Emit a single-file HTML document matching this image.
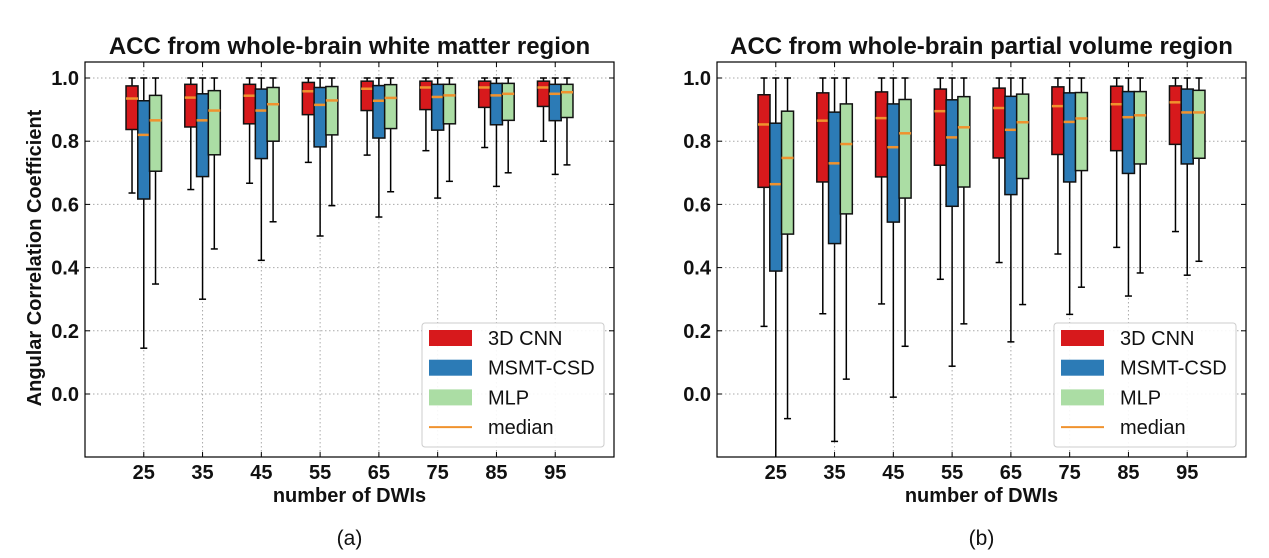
<!DOCTYPE html>
<html><head><meta charset="utf-8"><style>
body{margin:0;background:#fff;}
svg{display:block;font-family:"Liberation Sans",Arial,sans-serif;}
</style></head><body>
<svg id="fig" width="1269" height="558" viewBox="0 0 1269 558"></svg>
<script>
const categories=[25,35,45,55,65,75,85,95];
const seriesNames=["3D CNN","MSMT-CSD","MLP"];
const yTicks=[0.0,0.2,0.4,0.6,0.8,1.0];
// panel (a): [low whisker, Q1, median, Q3, high whisker]
const wmCNN=[[0.636,0.837,0.935,0.975,1],[0.647,0.845,0.938,0.98,1],[0.667,0.855,0.944,0.98,1],[0.733,0.884,0.958,0.986,1],[0.756,0.897,0.966,0.99,1],[0.77,0.9,0.97,0.99,1],[0.78,0.907,0.97,0.99,1],[0.80,0.91,0.97,0.99,1]];
const wmMSMT=[[0.145,0.617,0.82,0.928,1],[0.30,0.688,0.866,0.95,1],[0.423,0.745,0.897,0.965,1],[0.50,0.782,0.915,0.97,1],[0.56,0.81,0.928,0.976,1],[0.62,0.835,0.94,0.98,1],[0.657,0.852,0.945,0.983,1],[0.695,0.865,0.95,0.98,1]];
const wmMLP=[[0.348,0.705,0.866,0.945,1],[0.459,0.757,0.897,0.96,1],[0.545,0.8,0.917,0.97,1],[0.596,0.82,0.929,0.973,1],[0.64,0.84,0.937,0.979,1],[0.673,0.855,0.945,0.98,1],[0.70,0.866,0.95,0.983,1],[0.725,0.875,0.955,0.98,1]];
// panel (b)
const pvCNN=[[0.214,0.654,0.853,0.947,1],[0.254,0.671,0.865,0.953,1],[0.285,0.687,0.873,0.956,1],[0.363,0.724,0.895,0.965,1],[0.416,0.747,0.905,0.968,1],[0.443,0.758,0.911,0.972,1],[0.464,0.77,0.917,0.974,1],[0.514,0.79,0.923,0.975,1]];
const pvMSMT=[[-0.25,0.389,0.664,0.857,1],[-0.15,0.476,0.73,0.892,1],[-0.01,0.544,0.781,0.918,1],[0.088,0.594,0.812,0.931,1],[0.165,0.631,0.836,0.942,1],[0.252,0.671,0.861,0.953,1],[0.31,0.698,0.876,0.957,1],[0.376,0.728,0.891,0.965,1]];
const pvMLP=[[-0.078,0.506,0.747,0.895,1],[0.047,0.57,0.791,0.918,1],[0.151,0.62,0.825,0.932,1],[0.222,0.655,0.844,0.941,1],[0.283,0.682,0.86,0.949,1],[0.338,0.707,0.872,0.954,1],[0.383,0.728,0.882,0.957,1],[0.42,0.746,0.891,0.961,1]];

const colors=["#d7191c","#2c7bb6","#abdda4"];
const MED="#f0922e";
const NS="http://www.w3.org/2000/svg";
const svg=document.getElementById('fig');
function mk(tag,attrs,parent){const e=document.createElementNS(NS,tag);for(const k in attrs)e.setAttribute(k,attrs[k]);(parent||svg).appendChild(e);return e;}

function panel(px,title,data,label,showY,pid){
  const L=px,R=px+529,T=62,B=457;
  const xs=v=>L+(v-15)*(529/90);
  const ys=v=>394-v*316;
  const g=mk('g',{});
  
  
  const clipId='clip'+pid;
  const cp=mk('clipPath',{id:clipId},g);mk('rect',{x:L,y:T,width:529,height:B-T},cp);
  yTicks.forEach(t=>{const l=mk('line',{x1:L,x2:R,y1:ys(t),y2:ys(t),stroke:'#aaa','stroke-width':1,'stroke-dasharray':'1.5,2.5'},g);
    });
  categories.forEach(c=>{const l=mk('line',{x1:xs(c),x2:xs(c),y1:T,y2:B,stroke:'#aaa','stroke-width':1,'stroke-dasharray':'1.5,2.5'},g);
    });
  const plot=mk('g',{'clip-path':'url(#'+clipId+')'},g);
  data.forEach((ser,si)=>{
    ser.forEach((d,ci)=>{
      const cx=xs(categories[ci]+(si-1)*2);
      const hw=6;
      const bg=mk('g',{},plot);
      
      
      mk('line',{x1:cx,x2:cx,y1:ys(d[3]),y2:ys(d[4]),stroke:'#000','stroke-width':1.5},bg);
      mk('line',{x1:cx,x2:cx,y1:ys(d[1]),y2:ys(d[0]),stroke:'#000','stroke-width':1.5},bg);
      mk('line',{x1:cx-3.5,x2:cx+3.5,y1:ys(d[4]),y2:ys(d[4]),stroke:'#000','stroke-width':1.5},bg);
      mk('line',{x1:cx-3.5,x2:cx+3.5,y1:ys(d[0]),y2:ys(d[0]),stroke:'#000','stroke-width':1.5},bg);
      mk('rect',{x:cx-hw,y:ys(d[3]),width:hw*2,height:ys(d[1])-ys(d[3]),fill:colors[si],stroke:'#111','stroke-width':1.5},bg);
      mk('line',{x1:cx-hw,x2:cx+hw,y1:ys(d[2]),y2:ys(d[2]),stroke:MED,'stroke-width':2.5},bg);
    });
  });
  const fr=mk('rect',{x:L,y:T,width:529,height:B-T,fill:'none',stroke:'#000','stroke-width':1.2},g);
  
  yTicks.forEach(t=>{
    mk('line',{x1:L,x2:L+5,y1:ys(t),y2:ys(t),stroke:'#000','stroke-width':1},g);
    mk('line',{x1:R-5,x2:R,y1:ys(t),y2:ys(t),stroke:'#000','stroke-width':1},g);
    const tx=mk('text',{x:L-6,y:ys(t)+7,'text-anchor':'end','font-size':20,'font-weight':'bold',fill:'#111'},g);
    tx.textContent=t.toFixed(1);
    
  });
  categories.forEach(c=>{
    mk('line',{x1:xs(c),x2:xs(c),y1:B,y2:B-5,stroke:'#000','stroke-width':1},g);
    mk('line',{x1:xs(c),x2:xs(c),y1:T,y2:T+5,stroke:'#000','stroke-width':1},g);
    const tx=mk('text',{x:xs(c),y:479,'text-anchor':'middle','font-size':20,'font-weight':'bold',fill:'#111'},g);
    tx.textContent=c;
    
  });
  const tt=mk('text',{x:(L+R)/2,y:54,'text-anchor':'middle','font-size':24,'font-weight':'bold',fill:'#111'},g);
  tt.textContent=title;
  const xl=mk('text',{x:(L+R)/2,y:502,'text-anchor':'middle','font-size':20,'font-weight':'bold',fill:'#111'},g);
  xl.textContent='number of DWIs';
  const sl=mk('text',{x:(L+R)/2,y:545,'text-anchor':'middle','font-size':21,fill:'#111'},g);
  sl.textContent=label;
  if(showY){
    const yl=mk('text',{x:0,y:0,transform:'translate(41,258) rotate(-90)','text-anchor':'middle','font-size':20,'font-weight':'bold',fill:'#111'},g);
    yl.textContent='Angular Correlation Coefficient';
  }
  const lx=L+337,ly=323;
  const lg=mk('g',{},g);
  
  mk('rect',{x:lx,y:ly,width:182,height:124,rx:3,fill:'#fff','fill-opacity':0.9,stroke:'#ccc','stroke-width':1},lg);
  const names=seriesNames.concat(['median']);
  names.forEach((n,i)=>{
    const cy=338+i*29.7;
    const e=mk('g',{},lg);
    
    if(i<3) mk('rect',{x:lx+7,y:cy-8,width:43,height:16,fill:colors[i]},e);
    else mk('line',{x1:lx+7,x2:lx+50,y1:cy,y2:cy,stroke:MED,'stroke-width':2},e);
    const t=mk('text',{x:lx+66,y:cy+7,'font-size':20,fill:'#111'},e);t.textContent=n;
  });
}
panel(85,'ACC from whole-brain white matter region',[wmCNN,wmMSMT,wmMLP],'(a)',true,'panel-a');
panel(717,'ACC from whole-brain partial volume region',[pvCNN,pvMSMT,pvMLP],'(b)',false,'panel-b');
</script>
</body></html>
